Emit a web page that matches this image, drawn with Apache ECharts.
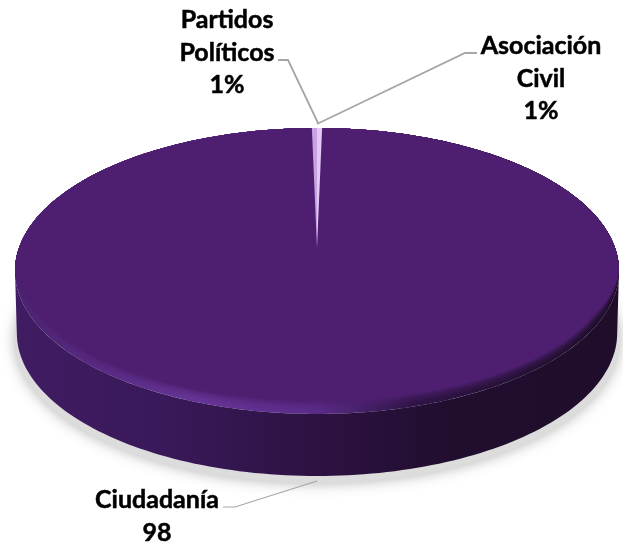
<!DOCTYPE html>
<html><head><meta charset="utf-8">
<style>html,body{margin:0;padding:0;background:#fff}#c{width:623px;height:544px}</style>
<script src="https://cdn.jsdelivr.net/npm/echarts@6/dist/echarts.min.js"></script>
</head><body><div id="c"></div>
<script>
// Data
const categories = ['Ciudadanía', 'Partidos Políticos', 'Asociación Civil'];
const sliceShares = [99.46, 0.27, 0.27];           // visible share of the disc
const labelLines = [['Ciudadanía', '98'], ['Partidos', 'Políticos', '1%'], ['Asociación', 'Civil', '1%']];

// Style and layout
const sliceColors = ['#4e1f70', '#c9a2e4', '#e3c9f3'];
const labelCentres = [[157, 500], [227, 20], [541, 46]];
const leaderLines = [
  [[223, 507], [235, 507], [317, 481]],
  [[278, 60], [288, 60], [318, 123]],
  [[477, 53], [465, 53], [317, 124]]
];
const leaderWidths = [1.2, 1.8, 1.8];
const lineStep = 32.5;
const apex = [317, 248];
const disc = {cx: 317, cy: 271, rx: 302, ry: 143};
const depth = 62;
const bevel = {x: 8, y: 13, layers: 10};
const bevelStops = [[0, '#4c2272'], [0.3, '#653497'], [0.5, '#5a2b88'], [0.66, '#2f1445'], [1, '#1f0d2b']];
const wallStops = [[0, '#401c62'], [0.25, '#391959'], [0.5, '#2d1242'], [0.72, '#210e2f'], [1, '#1f0d2b']];

// Point of the disc rim at angle t (clockwise from top), pulled in by f of the bevel on the lower half
function rim(t, f) {
  const s = Math.sin(t), c = Math.cos(t);
  const g = c < 0 ? Math.min(1, -c * 3) : 0;
  return [disc.cx + (disc.rx - f * bevel.x * g * Math.abs(s) ** 0.5) * s,
          disc.cy - (disc.ry - f * bevel.y * g) * c];
}
function rimPts(a0, a1, n, f) {
  const pts = [];
  for (let i = 0; i <= n; i++) pts.push(rim(a0 + (a1 - a0) * i / n, f));
  return pts;
}
function hexMix(a, b, m) {
  const p = h => [1, 3, 5].map(i => parseInt(h.substr(i, 2), 16));
  const A = p(a), B = p(b);
  return 'rgb(' + A.map((v, i) => Math.round(v + (B[i] - v) * m)).join(',') + ')';
}
const total = sliceShares.reduce((a, b) => a + b, 0);
const toAngle = v => v / total * Math.PI * 2;

function renderItem(params, api) {
  const i = params.dataIndex;
  const children = [];
  const start = i === 0 ? toAngle(sliceShares[2])
              : i === 1 ? -toAngle(sliceShares[1]) : 0;
  const sweep = toAngle(api.value(0));
  if (i === 0) {
    const G = echarts.graphic.LinearGradient;
    const grad = (stops, m) => new G(0, 0, 1, 0, stops.map(s => ({offset: s[0], color: hexMix(s[1], sliceColors[0], m)})));
    const shadowPts = [];
    for (let k = 0; k <= 180; k++) {
      const t = k / 180 * Math.PI * 2;
      shadowPts.push([disc.cx + 302 * Math.sin(t), disc.cy + depth + 7 - disc.ry * Math.cos(t)]);
    }
    children.push({type: 'polygon', shape: {points: shadowPts},
      style: {fill: '#dcdcdc', shadowBlur: 14, shadowColor: 'rgba(170,170,170,0.9)'}});
    const wallLow = [];
    for (let k = 0; k <= 120; k++) {
      const t = Math.PI * 0.5 + k / 120 * Math.PI;
      wallLow.push([disc.cx + disc.rx * Math.sin(t) * (1 - 0.006), disc.cy + depth - disc.ry * Math.cos(t)]);
    }
    children.push({type: 'polygon', shape: {points: wallLow.concat(rimPts(Math.PI * 1.5, Math.PI * 0.5, 120, 0))},
      style: {fill: grad(wallStops, 0)}});
    for (let l = 0; l < bevel.layers; l++) {
      const f = l / bevel.layers;
      children.push({type: 'polygon', shape: {points: rimPts(0, Math.PI * 2, 300, f)},
        style: {fill: grad(bevelStops, f * f)}});
    }
  }
  const wedge = [apex].concat(rimPts(start, start + sweep, i === 0 ? 400 : 4, 1));
  children.push({type: 'polygon', shape: {points: wedge}, style: {fill: sliceColors[i]}});
  children.push({type: 'polyline', shape: {points: leaderLines[i]},
    style: {stroke: '#a6a6a6', lineWidth: leaderWidths[i], fill: null}});
  labelLines[i].forEach((t, k) => children.push({type: 'text', style: {
    text: t, x: labelCentres[i][0], y: labelCentres[i][1] + k * lineStep,
    align: 'center', verticalAlign: 'middle',
    font: 'bold 25px Lato', fill: '#000', stroke: '#000', lineWidth: 0.5}}));
  return {type: 'group', children};
}

const chart = echarts.init(document.getElementById('c'), null, {renderer: 'canvas'});
chart.setOption({
  animation: false,
  backgroundColor: '#fff',
  series: [{
    type: 'custom', coordinateSystem: 'none', renderItem,
    clip: false, silent: true,
    data: categories.map((name, i) => ({name, value: [sliceShares[i]]}))
  }]
});
</script></body></html>
